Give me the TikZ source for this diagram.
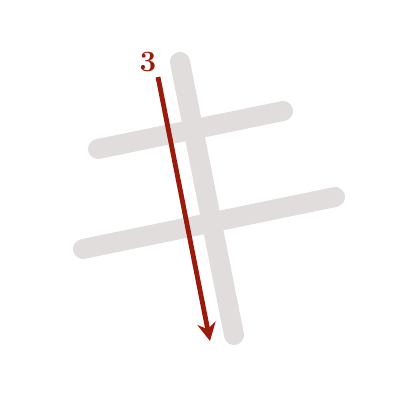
\documentclass[tikz,border=0pt]{standalone}
\usetikzlibrary{arrows.meta}
\definecolor{strokegray}{HTML}{E2DDDD}
\definecolor{strokered}{HTML}{9A1A0B}
\begin{document}
\begin{tikzpicture}[x=0.25mm,y=-0.25mm,
  graystroke/.style={draw=strokegray,line width=5mm,line cap=round},
  redstroke/.style={draw=strokered,line width=1.2mm,-{Stealth[length=4.5mm,width=4.6mm,inset=1.5mm]}},
  numlabel/.style={text=strokered,font=\fontsize{21}{21}\selectfont\bfseries,inner sep=0pt}]
\useasboundingbox (0,0) rectangle (400,400);
\coordinate (h1a) at (98,149);
\coordinate (h1b) at (283,111);
\coordinate (h2a) at (83,249);
\coordinate (h2b) at (335,197);
\coordinate (va) at (180,62);
\coordinate (vb) at (234,335);
\coordinate (ra) at (158,77);
\coordinate (rb) at (210,341);
\draw[graystroke] (h1a) -- (h1b);
\draw[graystroke] (h2a) -- (h2b);
\draw[graystroke] (va) -- (vb);
\draw[redstroke] (ra) -- (rb);
\node[numlabel] (n3) at (148,62) {3};
\end{tikzpicture}
\end{document}
